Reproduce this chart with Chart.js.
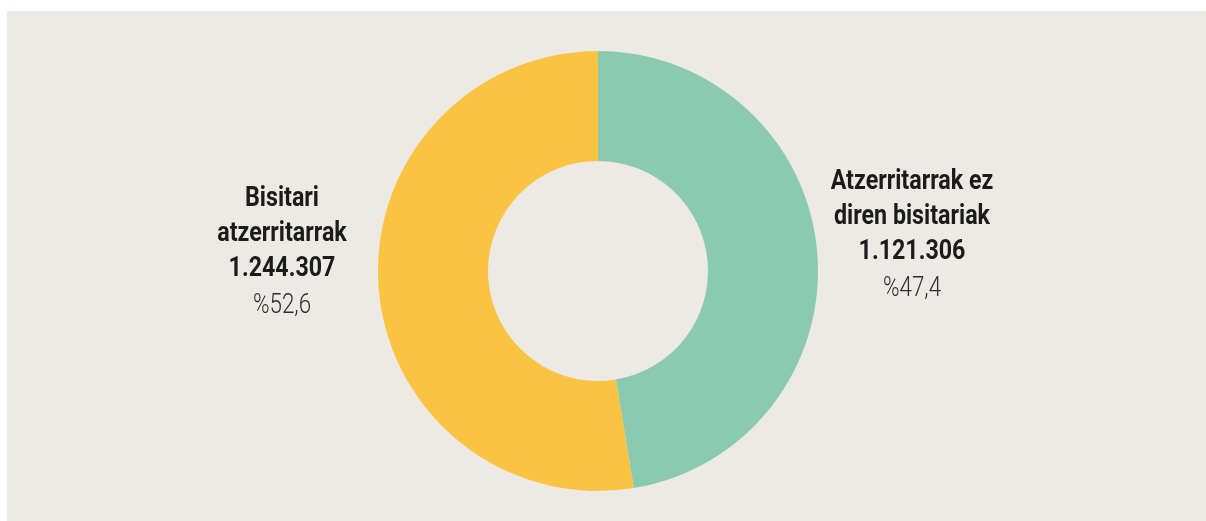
<!DOCTYPE html>
<html>
<head>
<meta charset="utf-8">
<script src="https://cdn.jsdelivr.net/npm/chart.js@4"></script>
<style>
  html, body { margin: 0; padding: 0; background: #ffffff; }
  canvas { display: block; }
</style>
</head>
<body>
<canvas id="grafikoa" width="1206" height="521"></canvas>
<script>
// Datuak
const kategoriak = ['Atzerritarrak ez diren bisitariak', 'Bisitari atzerritarrak'];
const balioak = [1121306, 1244307];
const ehunekoak = ['%47,4', '%52,6'];
const zenbakiak = ['1.121.306', '1.244.307'];
const izenLerroak = [['Atzerritarrak ez', 'diren bisitariak'], ['Bisitari', 'atzerritarrak']];
const koloreak = ['#8ACAB1', '#FAC442'];

// Atzeko planoa
const atzekoPlanoa = {
    id: 'atzekoPlanoa',
    beforeDraw(chart) {
        const c = chart.ctx;
        c.save();
        c.fillStyle = '#EDE9E5';
        c.fillRect(7, 11, chart.width - 7, chart.height - 11);
        c.restore();
    }
};

// testu estua (condensed) marrazteko
function idatzi(c, testua, x, y, sx) {
    c.save();
    c.translate(x, y);
    c.scale(sx, 1);
    c.fillText(testua, 0, 0);
    c.restore();
}

// Etiketak alboetan
const etiketak = {
    id: 'etiketak',
    afterDraw(chart) {
        const c = chart.ctx;
        const arc = chart.getDatasetMeta(0).data[0];
        const cx = arc.x, cy = arc.y;
        const kokapenak = [
            { x: cx + 314, y: cy - 89 },  // eskuina
            { x: cx - 316, y: cy - 72 }   // ezkerra
        ];
        c.save();
        c.textAlign = 'center';
        c.textBaseline = 'middle';
        kokapenak.forEach((k, i) => {
            let y = k.y;
            c.fillStyle = '#1b1b1b';
            c.font = 'bold 28px Roboto, sans-serif';
            izenLerroak[i].forEach(l => {
                idatzi(c, l, k.x, y, 0.83);
                y += 35;
            });
            idatzi(c, zenbakiak[i], k.x, y, 0.83);
            y += 37;
            c.fillStyle = '#2e2e2e';
            c.font = '300 28px Roboto, sans-serif';
            idatzi(c, ehunekoak[i], k.x, y, 0.8);
        });
        c.restore();
    }
};

const ctx = document.getElementById('grafikoa').getContext('2d');
new Chart(ctx, {
    type: 'doughnut',
    data: {
        labels: kategoriak,
        datasets: [{
            data: balioak,
            backgroundColor: koloreak,
            borderWidth: 0
        }]
    },
    options: {
        responsive: false,
        animation: false,
        cutout: '50%',
        layout: { padding: { top: 51, bottom: 30, left: 0, right: 10 } },
        plugins: {
            legend: { display: false },
            tooltip: { enabled: false }
        }
    },
    plugins: [atzekoPlanoa, etiketak]
});
</script>
</body>
</html>
